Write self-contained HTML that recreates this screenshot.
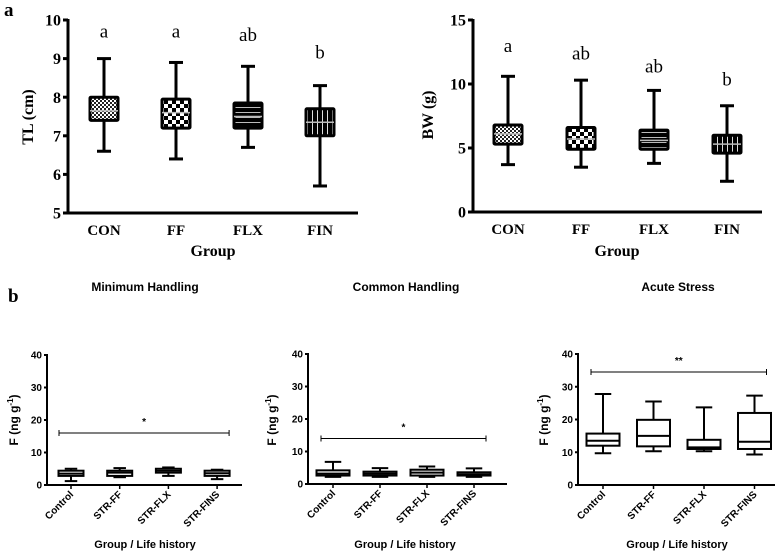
<!DOCTYPE html>
<html><head><meta charset="utf-8"><style>
body{margin:0;background:#fff}
svg{display:block}
.ser{font-family:"Liberation Serif",serif;font-weight:bold}
.san{font-family:"Liberation Sans",sans-serif;font-weight:bold}
</style></head><body>
<svg id="c" width="778" height="554" viewBox="0 0 778 554" xmlns="http://www.w3.org/2000/svg">
<defs>
<pattern id="pCON" width="4" height="4" patternUnits="userSpaceOnUse"><rect width="4" height="4" fill="#fff"/><rect width="2" height="2" fill="#222"/><rect x="2" y="2" width="2" height="2" fill="#222"/></pattern>
<pattern id="pFF" width="8" height="8" patternUnits="userSpaceOnUse"><rect width="8" height="8" fill="#fff"/><rect width="4" height="4" fill="#000"/><rect x="4" y="4" width="4" height="4" fill="#000"/></pattern>
<pattern id="pFLX" width="6" height="5" patternUnits="userSpaceOnUse"><rect width="6" height="5" fill="#000"/><rect y="2" width="6" height="1" fill="#bbb"/></pattern>
<pattern id="pFIN" width="5" height="6" patternUnits="userSpaceOnUse"><rect width="5" height="6" fill="#000"/><rect x="2" width="1" height="6" fill="#ddd"/></pattern>
</defs>
<text class="ser" x="4" y="16" font-size="19">a</text>
<text class="ser" x="8" y="302" font-size="19">b</text>
<g id="g"></g>
</svg>
<script>
// Panel a: TL
const topCats=["CON","FF","FLX","FIN"];
const tlMin=[6.6,6.4,6.7,5.7], tlQ1=[7.4,7.2,7.2,7.0], tlMed=[7.65,7.6,7.5,7.35], tlQ3=[8.0,7.95,7.85,7.7], tlMax=[9.0,8.9,8.8,8.3];
const tlLetters=["a","a","ab","b"], tlLetterY=[9.55,9.55,9.45,9.0];
const tlTicks=[5,6,7,8,9,10];
// Panel a: BW
const bwMin=[3.7,3.5,3.8,2.4], bwQ1=[5.3,4.9,4.9,4.6], bwMed=[6.1,5.7,5.6,5.3], bwQ3=[6.8,6.6,6.4,6.0], bwMax=[10.6,10.3,9.5,8.3];
const bwLetters=["a","ab","ab","b"], bwLetterY=[12.5,11.9,10.9,9.9];
const bwTicks=[0,5,10,15];
// Panel b
const botCats=["Control","STR-FF","STR-FLX","STR-FINS"];
const fTicks=[0,10,20,30,40];
const mhMin=[1.2,2.4,2.8,1.8], mhQ1=[2.8,2.8,3.8,2.8], mhMed=[3.5,3.8,4.4,3.6], mhQ3=[4.4,4.4,5.0,4.4], mhMax=[5.0,5.2,5.4,4.7];
const chMin=[2.2,2.2,2.2,2.2], chQ1=[2.6,2.6,2.6,2.6], chMed=[3.2,3.2,3.5,3.0], chQ3=[4.2,3.8,4.4,3.6], chMax=[6.8,4.9,5.4,4.8];
const asMin=[9.7,10.3,10.3,9.3], asQ1=[12,11.8,11,11], asMed=[13.5,15,11.5,13.2], asQ3=[15.7,19.9,13.8,22], asMax=[27.8,25.5,23.7,27.3];
const sigLevel=[16,14,34.5], sigMark=["*","*","**"];

const NS="http://www.w3.org/2000/svg", G=document.getElementById("g");
function mk(t,a,p){const e=document.createElementNS(NS,t);for(const k in a)e.setAttribute(k,a[k]);(p||G).appendChild(e);return e;}

function panel(o){
  const g=mk("g",{});
  
  
  const y=v=>o.y0+(v-o.vmin)/(o.vmax-o.vmin)*(o.y1-o.y0);
  const x=i=>o.x0+o.firstX+i*o.step;
  const sw=o.sw;
  mk("line",{x1:o.ax,y1:y(o.vmax)-1,x2:o.ax,y2:y(o.vmin)+sw/2,stroke:"#000","stroke-width":sw},g);
  mk("line",{x1:o.ax-sw/2,y1:y(o.vmin),x2:o.xend,y2:y(o.vmin),stroke:"#000","stroke-width":sw},g);
  o.ticks.forEach(t=>{
    mk("line",{x1:o.ax-o.tl,y1:y(t),x2:o.ax,y2:y(t),stroke:"#000","stroke-width":sw},g);
    const tx=mk("text",{x:o.ax-o.tl-2,y:y(t)+o.fs*0.35,"text-anchor":"end","font-size":o.fs,class:o.cls},g);
    tx.textContent=t;
    
    
  });
  o.cats.forEach((c,i)=>{
    const cx=x(i),bw=o.bw;
    const b=mk("g",{},g);
    
    
    mk("line",{x1:cx,y1:y(o.max[i]),x2:cx,y2:y(o.min[i]),stroke:"#000","stroke-width":sw},b);
    mk("line",{x1:cx-bw/4,y1:y(o.max[i]),x2:cx+bw/4,y2:y(o.max[i]),stroke:"#000","stroke-width":sw},b);
    mk("line",{x1:cx-bw/4,y1:y(o.min[i]),x2:cx+bw/4,y2:y(o.min[i]),stroke:"#000","stroke-width":sw},b);
    mk("rect",{x:cx-bw/2,y:y(o.q3[i]),width:bw,height:y(o.q1[i])-y(o.q3[i]),fill:o.fills?o.fills[i]:"#fff",stroke:"#000","stroke-width":sw,rx:o.rx||0},b);
    mk("line",{x1:cx-bw/2,y1:y(o.med[i]),x2:cx+bw/2,y2:y(o.med[i]),stroke:o.medc||"#000","stroke-width":o.medw||sw},b);
    if(o.xt) mk("line",{x1:cx,y1:y(o.vmin),x2:cx,y2:y(o.vmin)+4,stroke:"#000","stroke-width":1.5},g);
    let lab;
    if(o.rot){
      const ly=y(o.vmin)+10;
      lab=mk("text",{x:cx+3,y:ly,"text-anchor":"end","font-size":o.xfs,class:o.cls,transform:`rotate(-45 ${cx+3} ${ly})`},g);
    } else {
      lab=mk("text",{x:cx,y:y(o.vmin)+22,"text-anchor":"middle","font-size":o.xfs,class:o.cls},g);
    }
    lab.textContent=c;
    
    
    if(o.letters){
      const l=mk("text",{x:cx,y:y(o.ly[i]),"text-anchor":"middle","font-size":19,"font-family":"Liberation Serif, serif"},g);
      l.textContent=o.letters[i];
      
      
    }
  });
  if(o.sig!=null){
    const sy=y(o.sig),a=x(0)-12,bb=x(3)+12;
    const s=mk("g",{},g);
    
    
    mk("line",{x1:a,y1:sy,x2:bb,y2:sy,stroke:"#000","stroke-width":1},s);
    mk("line",{x1:a,y1:sy-3,x2:a,y2:sy+3,stroke:"#000","stroke-width":1},s);
    mk("line",{x1:bb,y1:sy-3,x2:bb,y2:sy+3,stroke:"#000","stroke-width":1},s);
    const t=mk("text",{x:(a+bb)/2,y:sy-8,"text-anchor":"middle","font-size":10,class:"san"},s);
    t.textContent=o.sigm;
  }
  const yl=mk("text",{x:o.ylx,y:o.yly,"text-anchor":"middle","font-size":o.ylfs,class:o.cls,transform:`rotate(-90 ${o.ylx} ${o.yly})`},g);
  yl.innerHTML=o.ylab;
  
  
  const xl=mk("text",{x:o.xlx,y:o.xly,"text-anchor":"middle","font-size":o.xlfs,class:o.cls},g);
  xl.textContent=o.xlab;
  
  
  if(o.title){
    const t=mk("text",{x:o.tx,y:291,"text-anchor":"middle","font-size":12,class:"san"},g);
    t.textContent=o.title;
    
    
  }
}
const topFills=["url(#pCON)","url(#pFF)","url(#pFLX)","url(#pFIN)"];
panel({name:"tl-chart",ax:68,x0:68,firstX:36,step:72,xend:358,y0:213,y1:20,vmin:5,vmax:10,ticks:tlTicks,tl:5,fs:16,cls:"ser",sw:3,bw:28,
  cats:topCats,min:tlMin,q1:tlQ1,med:tlMed,q3:tlQ3,max:tlMax,fills:topFills,medc:"#bbb",medw:1.5,letters:tlLetters,ly:tlLetterY,
  xfs:15,ylab:"TL (cm)",ylx:33,yly:117,ylfs:16,xlab:"Group",xlx:213,xly:256,xlfs:16,rx:1});
panel({name:"bw-chart",ax:473,x0:473,firstX:35,step:73,xend:762,y0:212,y1:20,vmin:0,vmax:15,ticks:bwTicks,tl:5,fs:16,cls:"ser",sw:3,bw:28,
  cats:topCats,min:bwMin,q1:bwQ1,med:bwMed,q3:bwQ3,max:bwMax,fills:topFills,medc:"#bbb",medw:1.5,letters:bwLetters,ly:bwLetterY,
  xfs:15,ylab:"BW (g)",ylx:433,yly:115,ylfs:16,xlab:"Group",xlx:617,xly:256,xlfs:16,rx:1});
const sub='F (ng g<tspan dy="-5" font-size="8">-1</tspan><tspan dy="5">)</tspan>';
panel({name:"minimum-handling-chart",ax:47,x0:47,firstX:24,step:48.7,xend:242,y0:485,y1:355,vmin:0,vmax:40,ticks:fTicks,tl:3,fs:10,cls:"san",sw:2,bw:25,xt:1,rot:1,
  cats:botCats,min:mhMin,q1:mhQ1,med:mhMed,q3:mhQ3,max:mhMax,sig:sigLevel[0],sigm:sigMark[0],
  xfs:10,ylab:sub,ylx:18,yly:420,ylfs:12,xlab:"Group / Life history",xlx:145,xly:548,xlfs:11,title:"Minimum Handling",tx:145});
panel({name:"common-handling-chart",ax:308,x0:308,firstX:25,step:47,xend:507,y0:484,y1:354,vmin:0,vmax:40,ticks:fTicks,tl:3,fs:10,cls:"san",sw:2,bw:33,xt:1,rot:1,
  cats:botCats,min:chMin,q1:chQ1,med:chMed,q3:chQ3,max:chMax,sig:sigLevel[1],sigm:sigMark[1],
  xfs:10,ylab:sub,ylx:276,yly:420,ylfs:12,xlab:"Group / Life history",xlx:405,xly:548,xlfs:11,title:"Common Handling",tx:406});
panel({name:"acute-stress-chart",ax:578,x0:578,firstX:25,step:50.5,xend:775,y0:485,y1:354,vmin:0,vmax:40,ticks:fTicks,tl:3,fs:10,cls:"san",sw:2,bw:33,xt:1,rot:1,
  cats:botCats,min:asMin,q1:asQ1,med:asMed,q3:asQ3,max:asMax,sig:sigLevel[2],sigm:sigMark[2],
  xfs:10,ylab:sub,ylx:548,yly:420,ylfs:12,xlab:"Group / Life history",xlx:677,xly:548,xlfs:11,title:"Acute Stress",tx:678});
</script>
</body></html>
